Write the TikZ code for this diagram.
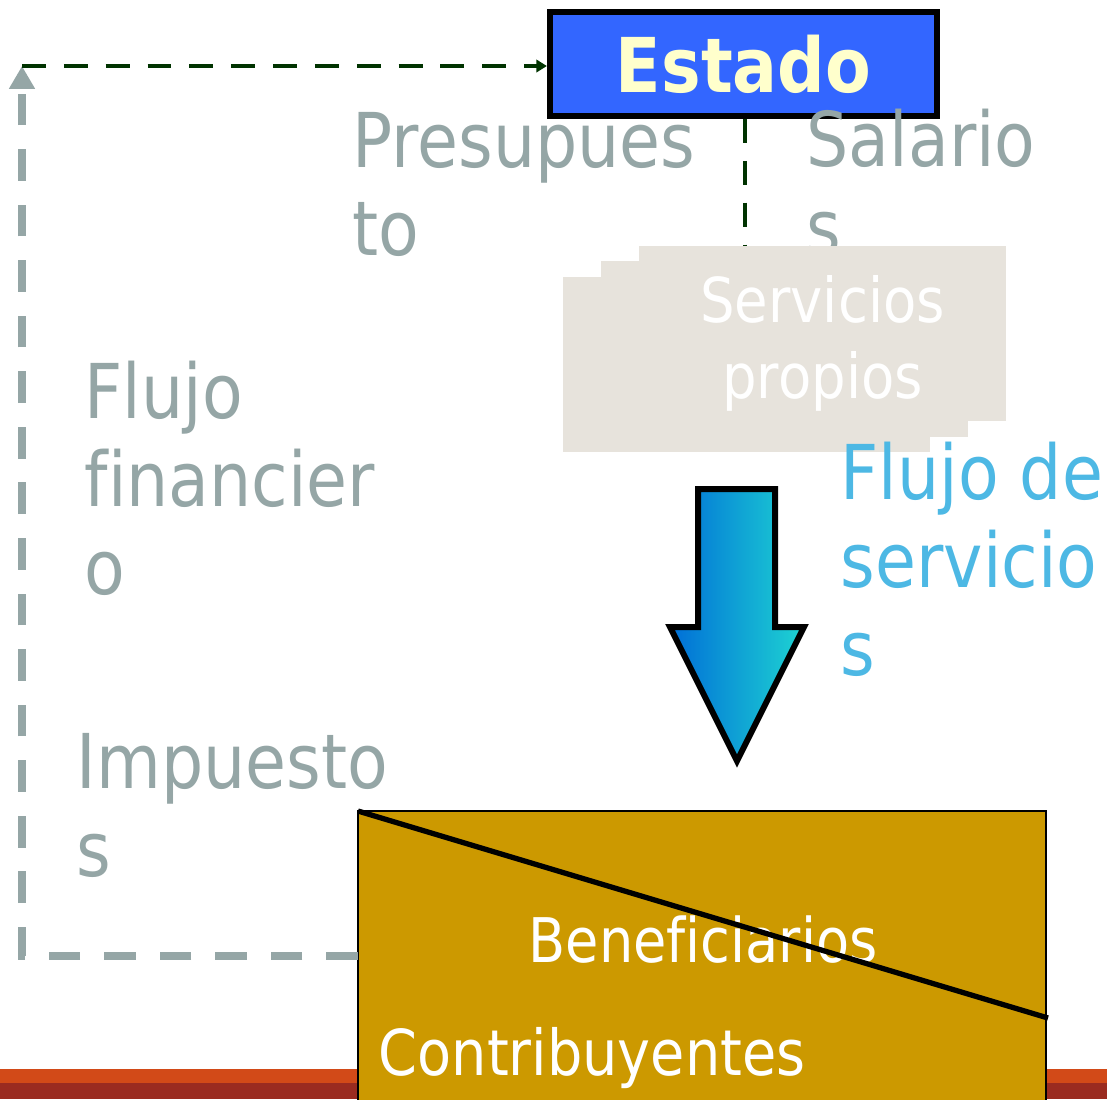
\documentclass[tikz,border=0pt]{standalone}
\usepackage{fontspec}
\setmainfont[FakeStretch=0.88,Ligatures=NoCommon]{DejaVu Sans}
\usetikzlibrary{arrows.meta}
\definecolor{grisflujo}{RGB}{149,166,166}
\definecolor{verdeflujo}{RGB}{0,51,0}
\definecolor{azulestado}{RGB}{51,102,255}
\definecolor{amarilloestado}{RGB}{255,255,204}
\definecolor{beigeserv}{RGB}{231,227,220}
\definecolor{azultexto}{RGB}{77,184,228}
\definecolor{dorado}{RGB}{204,153,0}
\definecolor{franjaroja}{RGB}{210,74,24}
\definecolor{franjaoscura}{RGB}{154,43,32}
\definecolor{azulizq}{RGB}{0,110,215}
\definecolor{azulder}{RGB}{30,212,210}

\begin{document}
\begin{tikzpicture}[x=0.01cm,y=-0.01cm]
	\tikzset{textogris/.style={text=grisflujo,anchor=north west,inner sep=0,align=left,font=\fontsize{21.5}{25}\selectfont},
		textoazul/.style={text=azultexto,anchor=north west,inner sep=0,align=left,font=\fontsize{21.5}{25}\selectfont},
		textoblanco/.style={text=white,inner sep=0,font=\fontsize{17.5}{21}\selectfont},
		lineagris/.style={draw=grisflujo,line width=2.3pt,dash pattern=on 9pt off 6.8pt},
		lineaverde/.style={draw=verdeflujo,line width=1.4pt,dash pattern=on 6.8pt off 5.1pt}}
	
	\useasboundingbox (0,0) rectangle (1107,1099);
	
	% Franjas inferiores
	\fill[franjaroja] (0,1069) rectangle (1107,1083);
	\fill[franjaoscura] (0,1083) rectangle (1107,1099);
	
	% Caja del Estado
	\node (estado) [draw=black,line width=1.7pt,fill=azulestado,minimum width=3.87cm,minimum height=1.04cm,
		text=amarilloestado,font=\fontsize{21.5}{25}\selectfont\bfseries] at (743.5,64) {Estado};
	
	% Textos grises
	\node (presupuesto) [textogris] at (352,112) {Presupues\\to};
	\node (salarios) [textogris] at (806,108) {Salario\\s};
	\node (flujofin) [textogris] at (84,360) {Flujo\\f\kern0pt inancier\\o};
	\node (impuestos) [textogris] at (76,733) {Impuesto\\s};
	
	% Linea verde del Estado a los servicios
	\coordinate (servtop) at (745,247);
	\draw[lineaverde] (estado.south -| servtop) -- (servtop);
	
	% Pila de servicios propios
	\fill[beigeserv] (563,277) rectangle (930,452);
	\fill[beigeserv] (601,261) rectangle (968,437);
	\fill[beigeserv] (639,246) rectangle (1006,421);
	\node (servicios) [text=white,align=center,inner sep=0,
		font=\fontsize{17.6}{21.6}\selectfont] at (822.5,343) {Servicios\\propios};
	
	% Flujo de servicios
	\node (flujoserv) [textoazul] at (840,441) {Flujo de\\servicio\\s};
	\shade[left color=azulizq,right color=azulder,draw=black,line width=1.7pt,line join=miter]
		(698,489) -- (775,489) -- (775,627) -- (804,627) -- (737,761) -- (670,627) -- (698,627) -- cycle;
	
	% Caja de beneficiarios / contribuyentes
	\node (benef) [draw=black,line width=0.6pt,fill=dorado,minimum width=6.88cm,minimum height=3cm,
		anchor=north west,inner sep=0,outer sep=0] at (358,811) {};
	\node (beneficiarios) [textoblanco,anchor=base] at (703,962) {Benef\kern0pt iciarios};
	\node (contrib) [textoblanco,anchor=base west,font=\fontsize{18}{21}\selectfont] at (378,1075) {Contribuyentes};
	\coordinate (diagfin) at (1048,1018);
	\draw[line width=1.5pt] (benef.north west) -- (diagfin);
	
	% Flujo financiero e impuestos
	\coordinate (esqabajo) at (22,956);
	\coordinate (esqarriba) at (22,66);
	\draw[lineagris,-{Triangle[length=6.5pt,width=7pt]}] (benef.west |- esqabajo) -- (esqabajo) -- (esqarriba);
	\draw[lineaverde,-{Triangle[length=3pt,width=3.5pt]}] (esqarriba) -- (esqarriba -| estado.west);
	
\end{tikzpicture}
\end{document}
